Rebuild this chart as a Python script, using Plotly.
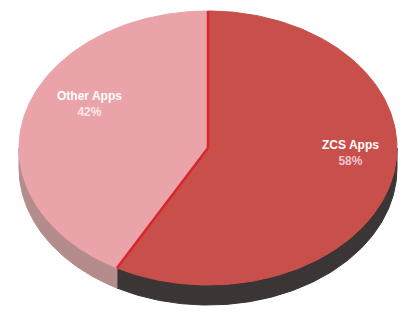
import numpy as np
import plotly.graph_objects as go

labels = ["ZCS Apps", "Other Apps"]
values = [58, 42]
top_colors = ["#c94f4b", "#e9a3a9"]
side_colors = ["#3b3535", "#b48c8c"]
label_colors = ["#ffffff", "#ffffff"]
pct_colors = ["#efc3cf", "#fbe9ea"]
label_radius = [0.78, 0.65]

# geometry (pixel space)
W, H = 406, 320
CX, CY, RX, RY = 208, 148, 189, 137
DEPTH = 20
LABEL_LIFT = 22

total = sum(values)
fracs = [v / total for v in values]
starts = np.cumsum([0] + fracs[:-1]) * 360.0
ends = starts + np.array(fracs) * 360.0


def pt(theta_deg, dy=0.0):
    t = np.radians(theta_deg)
    return CX + RX * np.sin(t), CY - RY * np.cos(t) + dy


fig = go.Figure()

# side walls (front half: 90..270 deg clockwise from top)
for i in range(len(values)):
    a0 = max(starts[i], 90)
    a1 = min(ends[i], 270)
    if a1 <= a0:
        continue
    th = np.linspace(a0, a1, 120)
    xs_top, ys_top = pt(th)
    xs_bot, ys_bot = pt(th[::-1], DEPTH)
    xs = np.concatenate([xs_top, xs_bot, xs_top[:1]])
    ys = np.concatenate([ys_top, ys_bot, ys_top[:1]])
    fig.add_trace(go.Scatter(x=xs, y=ys, mode="lines", fill="toself",
                             fillcolor=side_colors[i],
                             line=dict(color=side_colors[i], width=1),
                             hoverinfo="skip", showlegend=False))

# top faces
for i in range(len(values)):
    th = np.linspace(starts[i], ends[i], 200)
    ax, ay = pt(th)
    xs = np.concatenate([[CX], ax, [CX]])
    ys = np.concatenate([[CY], ay, [CY]])
    fig.add_trace(go.Scatter(x=xs, y=ys, mode="lines", fill="toself",
                             fillcolor=top_colors[i],
                             line=dict(color=top_colors[i], width=1),
                             name=labels[i], hoverinfo="name", showlegend=False))

# dividing edge (bright red)
for a in [starts[0], ends[0]]:
    ex, ey = pt(a)
    fig.add_trace(go.Scatter(x=[CX, ex], y=[CY, ey], mode="lines",
                             line=dict(color="#d8262e", width=2.5),
                             hoverinfo="skip", showlegend=False))

# labels
for i in range(len(values)):
    mid = (starts[i] + ends[i]) / 2
    t = np.radians(mid)
    lx = CX + RX * label_radius[i] * np.sin(t)
    ly = CY - RY * label_radius[i] * np.cos(t) - LABEL_LIFT
    fig.add_annotation(
        x=lx, y=ly, xref="x", yref="y", showarrow=False,
        text=f"<span style='color:{label_colors[i]}'>{labels[i]}</span><br>"
             f"<span style='color:{pct_colors[i]}'>{round(values[i])}%</span>",
        font=dict(family="Liberation Sans", size=12, color="#ffffff", weight="bold"),
        align="center",
    )

fig.update_layout(
    width=W, height=H,
    margin=dict(l=0, r=0, t=0, b=0),
    paper_bgcolor="white", plot_bgcolor="white",
    xaxis=dict(range=[0, W], visible=False, fixedrange=True),
    yaxis=dict(range=[H, 0], visible=False, fixedrange=True),
)

fig.write_html("out.html", config={"displayModeBar": False},
               post_script="document.body.style.margin='0';document.body.style.overflow='hidden';")
